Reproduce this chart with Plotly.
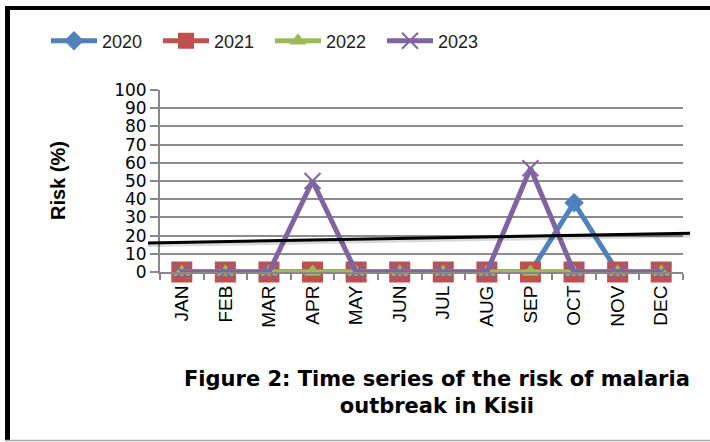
import plotly.graph_objects as go

months = ["JAN", "FEB", "MAR", "APR", "MAY", "JUN", "JUL", "AUG", "SEP", "OCT", "NOV", "DEC"]
risk_2020 = [0, 0, 0, 0, 0, 0, 0, 0, 0, 38, 0, 0]
risk_2021 = [0, 0, 0, 0, 0, 0, 0, 0, 0, 0, 0, 0]
risk_2022 = [0, 0, 0, 0, 0, 0, 0, 0, 0, 0, 0, 0]
risk_2023 = [0, 0, 0, 50, 0, 0, 0, 0, 57, 0, 0, 0]
y_ticks = [0, 10, 20, 30, 40, 50, 60, 70, 80, 90, 100]
threshold_y = [16, 21.3]

W, H = 710, 442
L, R, T, B = 160, 27, 90, 170
pw, ph = W - L - R, H - T - B

def px(x):
    return (x - L) / pw

def py(y):
    return (H - B - y) / ph

fig = go.Figure()
series = [
    ("2020", risk_2020, "#4F81BD", "diamond", 15),
    ("2021", risk_2021, "#C0504D", "square", 21),
    ("2022", risk_2022, "#9BBB59", "triangle-up", 15),
    ("2023", risk_2023, "#8064A2", "x-thin", 16),
]
for name, vals, col, sym, sz in series:
    marker = dict(symbol=sym, size=sz, color=col)
    if sym == "x-thin":
        marker["line"] = dict(color=col, width=2)
    fig.add_trace(go.Scatter(
        x=months, y=vals, name=name, mode="lines+markers",
        line=dict(color=col, width=5), marker=marker, cliponaxis=False,
    ))

# threshold line (with soft shadow)
fig.add_shape(type="line", xref="paper", yref="y", x0=px(148), x1=px(690),
              y0=threshold_y[0] - 1.2, y1=threshold_y[1] - 1.2,
              line=dict(color="rgba(0,0,0,0.15)", width=4), layer="above")
fig.add_shape(type="line", xref="paper", yref="y", x0=px(148), x1=px(690),
              y0=threshold_y[0], y1=threshold_y[1],
              line=dict(color="black", width=3), layer="above")

# outer frame
fig.add_shape(type="line", xref="paper", yref="paper", x0=px(7.5), x1=px(7.5),
              y0=py(6), y1=py(441), line=dict(color="black", width=5))
fig.add_shape(type="line", xref="paper", yref="paper", x0=px(5), x1=px(712),
              y0=py(8), y1=py(8), line=dict(color="black", width=4))
fig.add_shape(type="line", xref="paper", yref="paper", x0=px(5), x1=px(712),
              y0=py(440.5), y1=py(440.5), line=dict(color="#aaaaaa", width=1.5))

fig.add_annotation(text="<b>Risk (%)</b>", xref="paper", yref="paper",
                   x=px(58), y=py(181), xanchor="center", yanchor="middle",
                   textangle=-90, showarrow=False,
                   font=dict(family="Liberation Sans", size=20, color="black"))
fig.add_annotation(text="<b>Figure 2: Time series of the risk of malaria</b><br><b>outbreak in Kisii</b>",
                   xref="paper", yref="paper", x=px(437), y=py(392),
                   xanchor="center", yanchor="middle",
                   showarrow=False, align="center",
                   font=dict(family="DejaVu Sans", size=21, color="black"))

fig.update_layout(
    width=W, height=H,
    margin=dict(l=L, r=R, t=T, b=B, autoexpand=False),
    paper_bgcolor="white", plot_bgcolor="white",
    showlegend=True,
    legend=dict(orientation="h", xref="container", yref="container",
                x=46 / W, y=1 - 41 / H, xanchor="left", yanchor="middle",
                font=dict(family="Liberation Sans", size=18, color="#222222"),
                entrywidth=51, entrywidthmode="pixels", itemwidth=46,
                bgcolor="rgba(0,0,0,0)"),
    xaxis=dict(type="category", range=[-0.5, 11.5], tickangle=-90,
               tickson="boundaries", ticks="outside", ticklen=6, tickcolor="#888888",
               tickwidth=2, showline=True, linecolor="#888888", linewidth=2,
               ticklabelstandoff=4, automargin=False,
               showgrid=False, tickfont=dict(family="Liberation Sans", size=19, color="black")),
    yaxis=dict(range=[0, 100], tickvals=y_ticks, ticks="outside", ticklen=8,
               tickcolor="#888888", tickwidth=2, showline=True, linecolor="#888888",
               linewidth=2, showgrid=True, gridcolor="#8c8c8c", gridwidth=2,
               automargin=False,
               zeroline=False, tickfont=dict(family="DejaVu Sans", size=17, color="black")),
)

fig.write_html("out.html", config={"displayModeBar": False},
               post_script="document.body.style.margin='0';document.body.style.padding='0';")
